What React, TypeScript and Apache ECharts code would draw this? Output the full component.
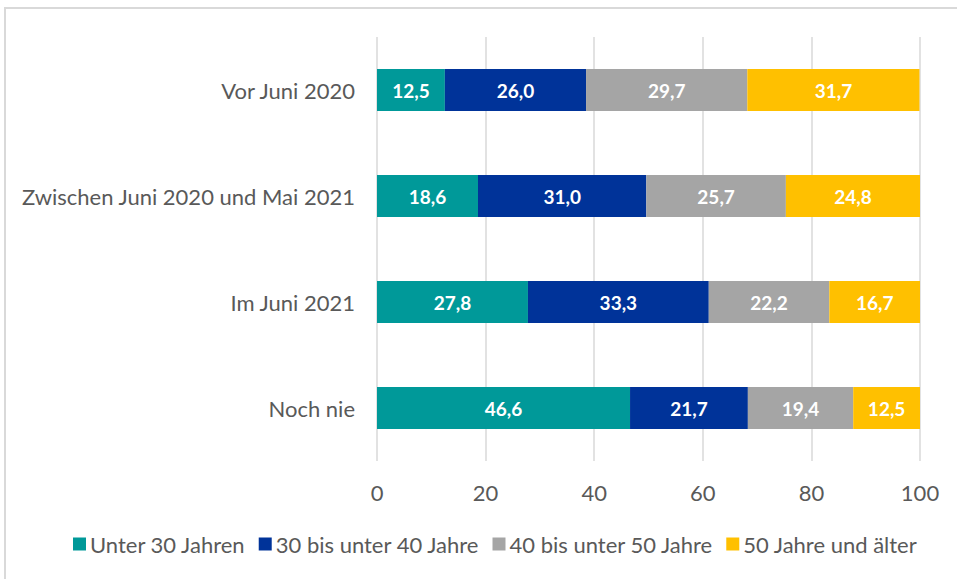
import React, { useEffect, useRef } from "react";
import * as echarts from "echarts";

const categories = ["Vor Juni 2020", "Zwischen Juni 2020 und Mai 2021", "Im Juni 2021", "Noch nie"];
const seriesNames = ["Unter 30 Jahren", "30 bis unter 40 Jahre", "40 bis unter 50 Jahre", "50 Jahre und älter"];
const under30 = [12.5, 18.6, 27.8, 46.6];
const from30to40 = [26.0, 31.0, 33.3, 21.7];
const from40to50 = [29.7, 25.7, 22.2, 19.4];
const over50 = [31.7, 24.8, 16.7, 12.5];
const colors = ["#009999", "#003399", "#A5A5A5", "#FFC000"];

const FONT = "Lato";

export default function App() {
  const ref = useRef<HTMLDivElement>(null);
  useEffect(() => {
    if (!ref.current) return;
    const chart = echarts.init(ref.current, null, { renderer: "svg" });
    const data = [under30, from30to40, from40to50, over50];
    chart.setOption({
      animation: false,
      backgroundColor: "#ffffff",
      textStyle: { fontFamily: FONT },
      grid: { left: 377, right: 37, top: 37, bottom: 118, containLabel: false },
      legend: {
        bottom: 19,
        left: 68,
        itemWidth: 13,
        itemHeight: 13,
        itemGap: 13,
        icon: "rect",
        textStyle: { fontFamily: FONT, fontSize: 22, color: "#595959", padding: [0, 0, 0, -1] },
        data: seriesNames,
      },
      xAxis: {
        type: "value",
        min: 0,
        max: 100,
        interval: 20,
        axisLine: { show: false },
        axisTick: { show: false },
        splitLine: { show: true, lineStyle: { color: "#D9D9D9", width: 1.5 } },
        axisLabel: { fontFamily: FONT, fontSize: 22, color: "#595959", margin: 20 },
      },
      yAxis: {
        type: "category",
        data: categories,
        inverse: true,
        axisLine: { show: false },
        axisTick: { show: false },
        axisLabel: { fontFamily: FONT, fontSize: 22, color: "#595959", margin: 22 },
      },
      graphic: [
        {
          type: "rect",
          shape: { x: 5, y: 8, width: 1000, height: 700 },
          style: { fill: "none", stroke: "#D9D9D9", lineWidth: 2 },
          silent: true,
        },
      ],
      series: seriesNames.map((name, i) => ({
        name,
        type: "bar",
        stack: "total",
        barWidth: 42,
        itemStyle: { color: colors[i] },
        label: {
          show: true,
          position: "inside",
          color: "#ffffff",
          fontFamily: FONT,
          fontWeight: "bold",
          fontSize: 19,
          formatter: (p: any) => Number(p.value).toFixed(1).replace(".", ","),
        },
        data: data[i],
      })),
    });
    return () => chart.dispose();
  }, []);
  return <div ref={ref} style={{ position: "fixed", left: 0, top: 0, width: 957, height: 579 }} />;
}
